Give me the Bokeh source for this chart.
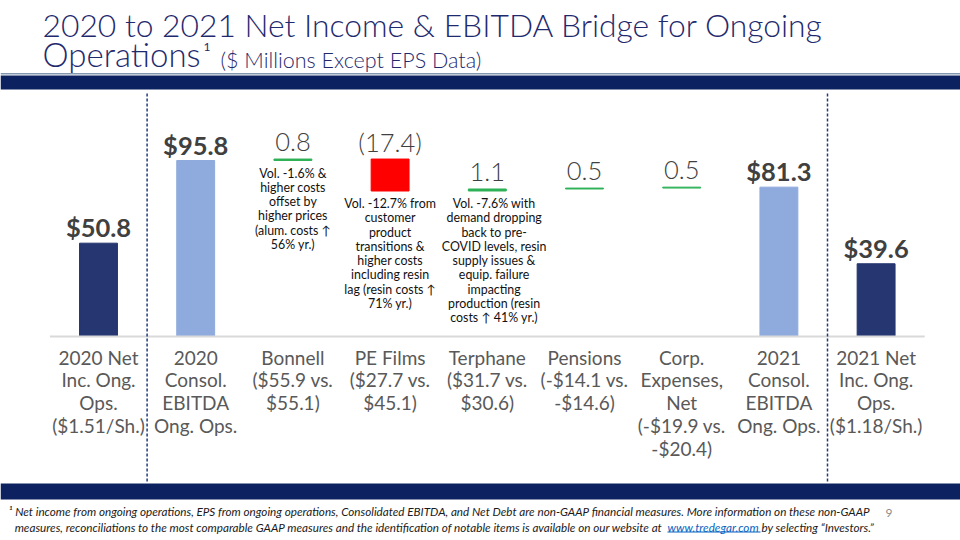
from bokeh.plotting import figure
from bokeh.models import Label, BoxAnnotation
from bokeh.core.properties import value
from bokeh.embed import file_html
from bokeh.resources import INLINE

# ---------------- data ----------------
categories = [
    "2020 Net\nInc. Ong.\nOps.\n($1.51/Sh.)",
    "2020\nConsol.\nEBITDA\nOng. Ops.",
    "Bonnell\n($55.9 vs.\n$55.1)",
    "PE Films\n($27.7 vs.\n$45.1)",
    "Terphane\n($31.7 vs.\n$30.6)",
    "Pensions\n(-$14.1 vs.\n-$14.6)",
    "Corp.\nExpenses,\nNet\n(-$19.9 vs.\n-$20.4)",
    "2021\nConsol.\nEBITDA\nOng. Ops.",
    "2021 Net\nInc. Ong.\nOps.\n($1.18/Sh.)",
]
net_income_2020 = 50.8
ebitda_2020 = 95.8
segment_changes = [0.8, -17.4, 1.1, 0.5, 0.5]
change_labels = ["0.8", "(17.4)", "1.1", "0.5", "0.5"]
ebitda_2021 = 81.3
net_income_2021 = 39.6
notes = [
    "Vol. -1.6% &\nhigher costs\noffset by\nhigher prices\n(alum. costs \u2191\n56% yr.)",
    "Vol. -12.7% from\ncustomer\nproduct\ntransitions &\nhigher costs\nincluding resin\nlag (resin costs \u2191\n71% yr.)",
    "Vol. -7.6% with\ndemand dropping\nback to pre-\nCOVID levels, resin\nsupply issues &\nequip. failure\nimpacting\nproduction (resin\ncosts \u2191 41% yr.)",
    "",
    "",
]

# ---------------- layout constants ----------------
W, H = 960, 540
PX_UNIT = 1.837      # pixels per $M
BASE = 204           # baseline, px from bottom of canvas
X0 = 98              # first category centre, px from left
STEP = 97.2          # px per category

NAVY = "#253670"
LIGHT = "#8FAADC"
GREEN = "#2EB157"
RED = "#FF0000"
BAND = "#0C2260"
TITLE_C = "#1F2A6E"
FONT = "Lato"
LIGHT_FONT = "Lato Light, Lato"

p = figure(width=W, height=H, output_backend="svg", toolbar_location=None,
           x_range=(-X0 / STEP, (W - X0) / STEP),
           y_range=(-BASE / PX_UNIT, (H - BASE) / PX_UNIT),
           min_border=0, outline_line_color=None)
p.axis.visible = False
p.grid.visible = False
p.background_fill_color = "white"
p.border_fill_color = "white"

n = len(categories)
idx = list(range(n))

# ---------------- bars ----------------
tot_x = [0, 1, n - 2, n - 1]
tot_v = [net_income_2020, ebitda_2020, ebitda_2021, net_income_2021]
tot_c = [NAVY, LIGHT, LIGHT, NAVY]
p.vbar(x=tot_x, top=tot_v, bottom=0, width=0.39, fill_color=tot_c, line_color=tot_c)

cum = ebitda_2020
d_x, d_b, d_t, d_c = [], [], [], []
for i, d in enumerate(segment_changes):
    lo, hi = min(cum, cum + d), max(cum, cum + d)
    d_x.append(2 + i); d_b.append(lo); d_t.append(hi)
    d_c.append(GREEN if d > 0 else RED)
    cum += d
p.vbar(x=d_x, bottom=d_b, top=d_t, width=0.39, fill_color=d_c, line_color=d_c, line_width=1)

# baseline
p.segment(x0=[-0.5], x1=[n - 0.5], y0=[0], y1=[0], line_color="#D9D9D9", line_width=2)

# dividers
def py(page_y):
    return ((H - page_y) - BASE) / PX_UNIT

p.segment(x0=[0.5, n - 1.5], x1=[0.5, n - 1.5], y0=[py(93)] * 2, y1=[py(482)] * 2,
          line_color="#203A7A", line_width=1.5, line_dash="3 2")

# ---------------- value labels ----------------
p.text(x=tot_x, y=tot_v, text=["$%.1f" % v for v in tot_v], y_offset=-16,
       text_align="center", text_baseline="middle", text_font=value(FONT),
       text_font_style="bold", text_font_size="25.5px", text_color="#404040")

p.text(x=d_x, y=d_t, text=change_labels, y_offset=-17,
       text_align="center", text_baseline="middle", text_font=value(LIGHT_FONT),
       text_font_size="25.5px", text_color="#404040")

note_x = [x + (0.07 if i == 2 else 0) for i, x in enumerate(d_x)]
p.text(x=note_x, y=d_b, text=notes, y_offset=5,
       text_align="center", text_baseline="top", text_font=value(FONT),
       text_font_size="12.4px", text_color="#111111", text_line_height=0.95)

# category labels
p.text(x=idx, y=[0] * n, text=categories, y_offset=9,
       text_align="center", text_baseline="top", text_font=value(FONT),
       text_font_size="19px", text_color="#595959", text_line_height=0.99)

# ---------------- title / bands / footnote ----------------
def sy(page_y):
    return H - page_y

def lab(x, y, text, size, color, style="normal", align="left", font=FONT):
    p.add_layout(Label(x=x, y=sy(y), x_units="screen", y_units="screen", text=text,
                       text_font=font, text_font_size=size, text_color=color,
                       text_font_style=style, text_baseline="middle", text_align=align))

def box(left, right, top, bottom, color):
    p.add_layout(BoxAnnotation(left=left, right=right, top=sy(top), bottom=sy(bottom),
                               left_units="screen", right_units="screen",
                               top_units="screen", bottom_units="screen",
                               fill_color=color, fill_alpha=1, line_color=None))

lab(42, 24.5, "2020 to 2021 Net Income & EBITDA Bridge for Ongoing", "31.8px", TITLE_C, font=LIGHT_FONT)
lab(42, 53, "Operations", "33px", TITLE_C, font=LIGHT_FONT)
lab(203, 46, "1", "12px", TITLE_C)
lab(220, 59.5, "($ Millions Except EPS Data)", "21.5px", TITLE_C, font=LIGHT_FONT)

box(0, W, 72.5, 74, "#8497B0")
box(0, W, 75, 89, BAND)
box(0, W, 483, 499, BAND)

foot1 = ("\u00b9 Net income from ongoing operations, EPS from ongoing operations, Consolidated EBITDA, "
         "and Net Debt are non-GAAP financial measures.  More information on these non-GAAP")
foot2a = ("measures, reconciliations to the most comparable GAAP measures and the identification "
          "of notable items is available on our website at ")
foot2b = "www.tredegar.com"
foot2c = " by selecting \u201cInvestors.\u201d"

lab(8, 510, foot1, "11.7px", "#1a1a1a", "italic")
lab(665, 526.5, foot2a, "11.7px", "#1a1a1a", "italic", "right")
lab(667, 526.5, foot2b, "11.7px", "#0563C1", "italic")
box(667, 760, 531, 532, "#0563C1")
lab(761, 526.5, foot2c, "11.7px", "#1a1a1a", "italic")
lab(885, 512, "9", "12px", "#8C8C8C")

open("out.html", "w").write(file_html(p, INLINE))
